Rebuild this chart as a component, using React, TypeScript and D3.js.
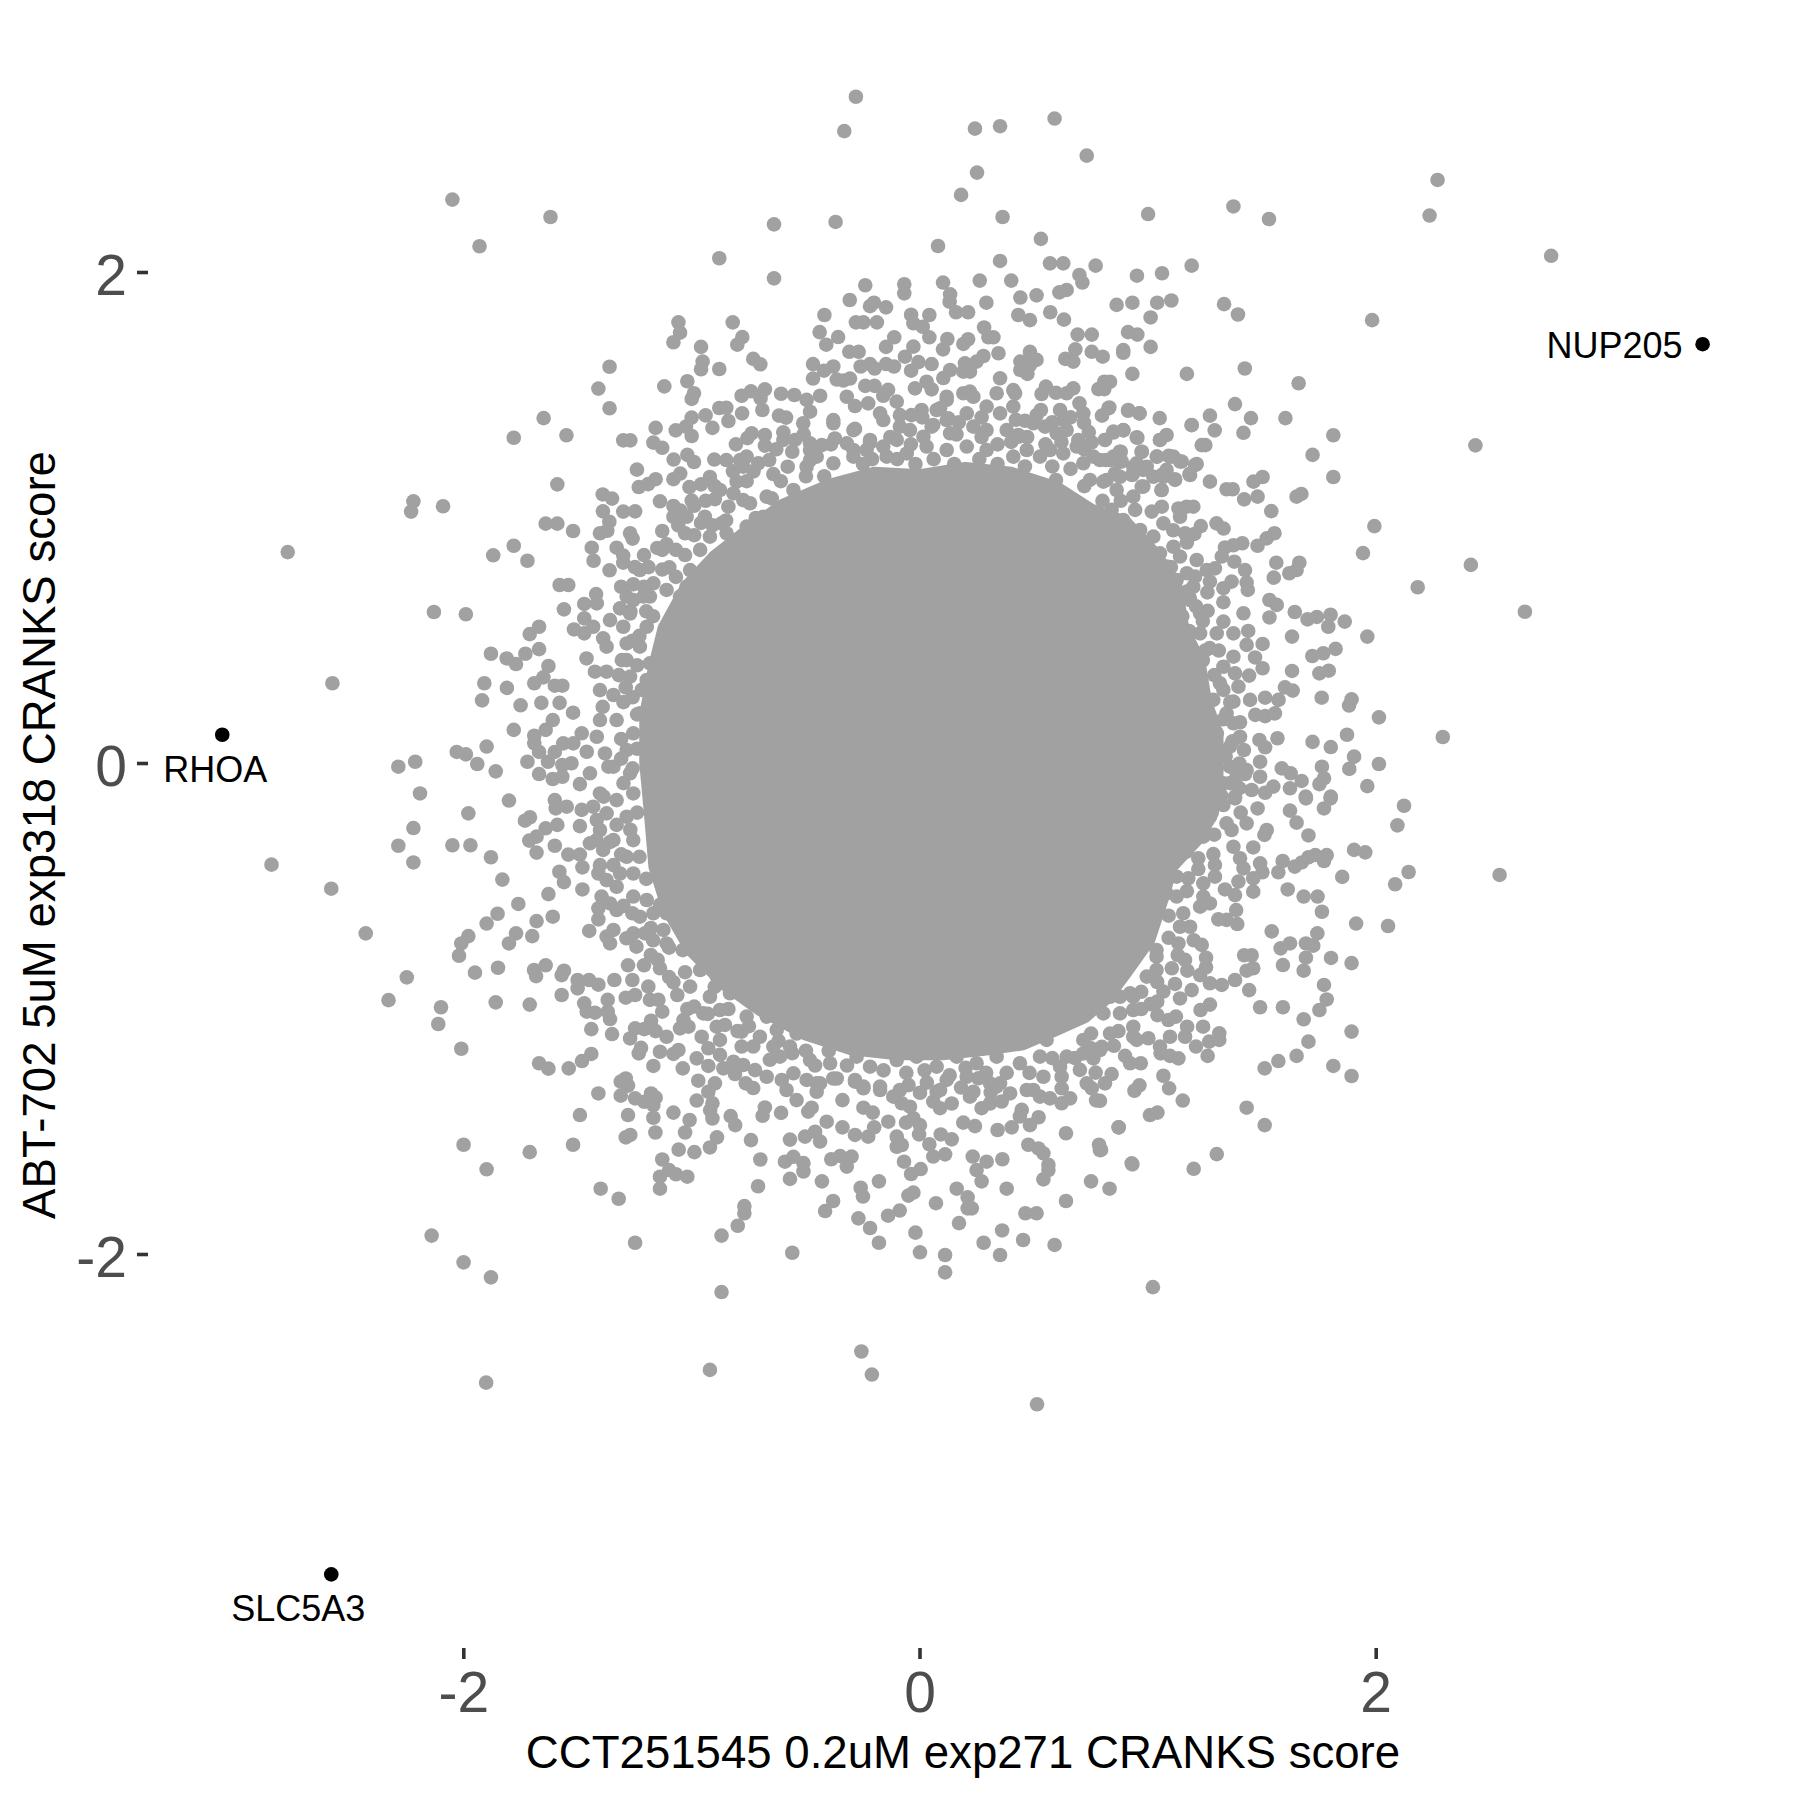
import * as d3 from "d3";

// Values: [CCT251545 score, ABT-702 score]
const farOutliers = [
[-.281,2.716],[-.332,2.576],[.241,2.586],[.351,2.596],[.590,2.627],[.731,2.476],[.250,2.407],[.180,2.316],[.362,2.226],[1.000,2.238],[.530,2.137],[.079,2.108],[-2.050,2.297],[-1.620,2.226],[-1.931,2.107],[-.640,2.196],[-.370,2.206],
[2.269,2.377],[2.234,2.232],[2.767,2.068],[1.982,1.806],[1.374,2.269],[1.530,2.218],[1.333,1.871],[1.394,1.829],[1.424,1.609],[1.660,1.549],[2.435,1.296],[2.415,.809],[2.652,.618],[2.541,-.454],
[-2.772,.861],[-2.576,.327],[-2.843,-.412],[-2.581,-.510],[-2.430,-.692],[-2.330,-.964],[-1.902,-2.522],[-.921,-2.470],[-.257,-2.395],[-.211,-2.489],[.513,-2.610],
];
const upperLeft = [
[-.880,2.058],[-.640,1.976],[-1.059,1.797],[-1.052,1.755],[-1.081,1.716],[-.821,1.797],[-.779,1.737],[-.801,1.706],[-.960,1.697],[-.953,1.637],[-.960,1.606],[-.880,1.607],[-.731,1.648],[-.700,1.626],[-1.361,1.616],[-1.410,1.527],[-1.361,1.447],[-1.121,1.536],[-1.020,1.557],[-.991,1.508],[-1.001,1.485],[-1.650,1.407],[-1.781,1.327],[-1.550,1.337],[-1.301,1.316],[-1.270,1.316],[-1.159,1.367],[-1.071,1.357],[-1.001,1.409],[-1.026,1.372],[-1.001,1.334],[-.940,1.418],[-.910,1.367],[-.880,1.448],[-.849,1.449],[-.840,1.395],[-.780,1.426],[-.782,1.498],[-.741,1.516],[-.680,1.524],[-.609,1.506],[-.551,1.501],[-.699,1.487],[-.691,1.440],[-.618,1.417],[-.587,1.409],[-1.169,1.307],[-1.130,1.286],[-1.080,1.238],[-1.020,1.257],[-.991,1.228],[-.902,1.238],[-.849,1.236],[-1.241,1.197],[-1.233,1.126],[-1.192,1.138],[-1.159,1.158],[-1.081,1.158],[-1.051,1.181],[-1.011,1.126],[-.960,1.137],[-.921,1.167],[-1.590,1.137],[-1.391,1.096],[-1.350,1.079],[-1.390,1.027],[-1.301,1.026],[-1.249,1.027],[-1.140,1.068],[-1.001,1.071],[-2.221,1.068],[-2.231,1.026],[-2.091,1.048],[-1.641,.977],[-1.590,.977],[-1.521,.947],[-1.362,.985],[-1.403,.938],[-1.371,.948],[-1.271,.938],[-1.260,.916],[-1.130,.947],[-1.439,.879],[-1.431,.826],[-1.330,.879],[-1.301,.847],[-1.301,.818],[-1.210,.849],[-1.152,.878],[-1.111,.893],[-1.871,.848],[-1.781,.887],[-1.721,.826],[-1.361,.787],[-1.580,.727],[-1.542,.727],[-1.420,.690],[-1.030,.849],[-1.099,.799],[-1.257,.730],[-.757,1.325],[-.807,1.300],[-.680,1.295],[-.599,1.349],[-.599,1.318],[-.548,1.318],[-.738,1.345],[-.680,1.338],[-.789,1.236],[-.709,1.223],[-.661,1.236],[-.580,1.209],[-.643,1.179],[-1.081,1.049],[-.775,1.209],[-.899,1.077],[-.870,.978],[-.840,1.046],[-.775,1.073],[-.804,1.148],[-1.081,1.005],[-1.023,1.005],[-.943,1.005],[-1.030,.938],
];
const upperMiddle = [
[.351,2.047],[.570,2.037],[.628,2.037],[.699,1.990],[.712,1.959],[.770,2.028],[.951,1.987],[1.061,1.997],[1.191,2.028],[-.240,1.948],[-.069,1.952],[-.069,1.915],[.101,1.959],[.262,1.967],[.400,1.967],[-.308,1.888],[-.202,1.877],[-.219,1.863],[-.149,1.858],[.132,1.911],[.130,1.881],[.158,1.838],[.211,1.838],[.291,1.877],[.440,1.898],[.511,1.907],[.611,1.919],[.643,1.929],[.862,1.868],[.931,1.877],[1.040,1.877],[1.102,1.886],[1.011,1.817],[.571,1.838],[.431,1.827],[.482,1.806],[.631,1.808],[-.419,1.827],[-.281,1.797],[-.248,1.797],[-.189,1.797],[-.039,1.828],[.041,1.827],[-.029,1.793],[.012,1.779],[.041,1.736],[.281,1.776],[.300,1.736],[.322,1.736],[-.440,1.757],[-.359,1.737],[-.411,1.706],[-.113,1.736],[-.149,1.697],[-.029,1.698],[.120,1.729],[.101,1.687],[.211,1.728],[.190,1.709],[.691,1.747],[.753,1.747],[.912,1.757],[.953,1.747],[.891,1.684],[.891,1.673],[1.011,1.697],[.681,1.687],[.753,1.677],[.801,1.657],[.637,1.648],[.672,1.637],[.482,1.677],[-.310,1.677],[-.269,1.677],[.344,1.671],[.278,1.660],[.440,1.637],[.511,1.644],[.482,1.623],[.440,1.603],[.471,1.587],[.931,1.587],[1.170,1.587],[.808,1.555],[.833,1.555],[.782,1.525],[.808,1.525],[-.066,1.657],[-.469,1.627],[-.380,1.617],[-.421,1.600],[-.469,1.568],[-.260,1.617],[-.219,1.627],[-.199,1.609],[-.149,1.627],[-.114,1.617],[-.007,1.635],[.051,1.627],[-.039,1.600],[.132,1.603],[.197,1.630],[.219,1.596],[.190,1.596],[.248,1.637],[.102,1.570],[-.365,1.564],[-.336,1.560],[-.307,1.568],[.351,1.569],[-.022,1.528],[.029,1.555],[.051,1.524],[-.240,1.538],[-.199,1.538],[-.140,1.522],[-.161,1.498],[-.438,1.498],[-.321,1.494],[-.497,1.481],[.552,1.535],[.533,1.505],[.596,1.510],[.672,1.528],[.643,1.508],[.409,1.521],[.417,1.508],[.830,1.450],[.798,1.417],[.912,1.437],[.962,1.426],[1.051,1.407],[1.191,1.379],[.699,1.467],[.716,1.426],[.719,1.388],[1.081,1.338],[1.052,1.318],[.953,1.327],[.892,1.357],[.848,1.348],[.811,1.318],[.753,1.308],[.694,1.318],[.972,1.270],[.876,1.270],[.815,1.236],[.876,1.230],[1.039,1.250],[1.090,1.253],[1.111,1.250],[1.147,1.230],[1.206,1.216],[1.184,1.175],[1.067,1.168],[1.118,1.158],[.979,1.128],[1.059,1.114],[.930,1.175],[.855,1.182],[.745,1.155],[.804,1.148],[.596,1.155],[1.235,1.297],[.007,1.440],[-.037,1.419],[.088,1.447],[.124,1.406],[-.088,1.419],[-.102,1.474],[-.227,1.467],[-.285,1.456],[-.380,1.399],[-.482,1.433],[-.512,1.386],[-.373,1.324],[-.482,1.304],[-.431,1.297],[.117,1.494],[.219,1.515],[.511,1.419],[.460,1.396],[.431,1.338],[.570,1.277],[.629,1.399],[.614,1.440],[-.175,1.426],[-.285,1.363],[.058,1.379],[-.292,1.277],[-.219,1.307],[-.482,1.236],
];
const rightUpper = [
[1.381,1.464],[1.602,1.407],[1.451,1.407],[1.271,1.417],[1.191,1.378],[1.292,1.357],[1.418,1.347],[1.812,1.337],[1.251,1.297],[1.721,1.257],[1.812,1.167],[1.502,1.167],[1.462,1.148],[1.271,1.148],[1.344,1.117],[1.371,1.117],[1.421,1.076],[1.480,1.087],[1.672,1.098],[1.651,1.087],[1.540,1.028],[1.213,1.220],[1.181,1.179],[1.198,1.046],[1.169,1.046],[1.133,1.039],[1.140,1.005],[1.992,.967],[1.942,.857],[2.182,.718],[1.300,.978],[1.331,.957],[1.231,.967],[1.203,.935],[1.162,.938],[1.554,.938],[1.520,.917],[1.480,.887],[1.413,.897],[1.374,.889],[1.337,.880],[1.323,.843],[1.213,.829],[1.293,.795],[1.257,.788],[1.206,.761],[1.378,.822],[1.425,.788],[1.432,.737],[1.437,.707],[1.562,.818],[1.551,.757],[1.663,.818],[1.651,.788],[1.619,.775],[1.271,.741],[1.366,.741],[1.330,.714],[1.260,.697],[1.330,.657],[1.181,.677],[1.532,.666],[1.564,.646],[1.418,.612],[1.532,.595],[1.643,.617],[1.699,.587],[1.740,.597],[1.800,.606],[1.862,.578],[1.790,.557],[1.631,.517],[1.961,.517],[1.261,.622],[1.330,.578],[1.439,.540],[1.374,.530],[1.502,.487],[1.432,.483],[1.822,.467],[1.768,.449],[1.720,.438],[1.792,.378],[1.751,.367],[1.631,.377],[1.469,.432],[1.502,.388],[1.443,.358],[1.381,.367],[1.396,.313],[1.600,.310],[1.634,.297],[1.761,.268],[1.892,.261],[1.881,.236],[1.513,.268],[1.572,.259],[1.447,.259],[1.374,.252],[2.012,.188],[1.470,.198],[1.513,.193],[1.556,.204],[1.403,.168],[1.872,.117],[2.292,.108],[1.721,.088],[1.801,.067],[1.567,.103],[1.488,.096],[1.513,.066],[1.420,.055],[1.903,.028],[2.012,-.002],[1.882,-.022],[1.762,-.013],[1.491,.007],[1.586,-.020],[1.625,-.040],[1.673,-.071],[1.771,-.060],[1.751,-.084],[1.961,-.092],[1.622,-.101],[1.549,-.094],[1.491,-.054],[1.425,-.043],[1.454,-.108],[1.381,-.135],[1.691,-.135],[1.801,-.135],[1.359,-.013],[1.513,-.119],
];
const rightLower = [
[2.122,-.172],[2.093,-.252],[1.800,-.142],[1.771,-.183],[1.692,-.142],[1.622,-.192],[1.651,-.241],[1.703,-.293],[1.480,-.183],[1.406,-.200],[1.432,-.244],[1.520,-.271],[1.510,-.291],[1.381,-.142],[1.330,-.169],[1.366,-.271],[1.461,-.342],[1.374,-.339],[1.403,-.386],[1.491,-.407],[1.590,-.397],[1.571,-.443],[1.501,-.443],[1.418,-.427],[1.461,-.468],[1.396,-.481],[1.461,-.522],[1.643,-.420],[1.674,-.403],[1.703,-.382],[1.733,-.373],[1.783,-.373],[1.771,-.397],[1.903,-.352],[1.952,-.362],[2.142,-.442],[2.083,-.492],[1.851,-.462],[1.612,-.513],[1.682,-.542],[1.743,-.542],[1.762,-.604],[1.912,-.652],[2.052,-.662],[1.542,-.684],[1.742,-.692],[1.622,-.733],[1.581,-.753],[1.692,-.733],[1.724,-.742],[1.692,-.791],[1.591,-.821],[1.682,-.844],[1.802,-.792],[1.892,-.813],[1.421,-.781],[1.454,-.781],[1.432,-.844],[1.461,-.834],[1.381,-.882],[1.443,-.923],[1.771,-.902],[1.783,-.961],[1.751,-1.004],[1.491,-.993],[1.591,-.993],[1.682,-1.042],[1.892,-1.092],[1.703,-1.133],[1.651,-1.191],[1.571,-1.212],[1.511,-1.242],[1.812,-1.232],[1.892,-1.273],[1.432,-1.402],[1.511,-1.473],[1.301,-1.591],[1.152,-1.373],[1.041,-1.422],[1.008,-1.432],[.871,-1.482],[1.092,-1.323],[1.067,-1.272],[.962,-1.311],[.940,-1.333],[.840,-1.265],[.811,-1.303],[1.261,-1.191],[1.210,-1.153],[1.268,-1.133],[1.312,-1.099],[1.312,-1.126],[1.241,-1.072],[1.162,-1.113],[1.171,-1.072],[1.271,-.982],[1.230,-1.004],[1.122,-1.031],[1.041,-1.025],[1.089,-1.045],[1.096,-1.113],[1.052,-1.153],[1.055,-1.181],[1.133,-1.201],[1.096,-1.191],[.968,-1.221],[.921,-1.221],[.899,-1.191],[1.001,-1.119],[.950,-1.126],[1.191,-.923],[1.140,-.957],[1.067,-.929],[1.118,-.898],[1.271,-.895],[1.323,-.902],[1.228,-.862],[1.254,-.830],[1.254,-.791],[1.235,-.739],[1.162,-.800],[1.172,-.844],[1.104,-.834],[1.133,-.733],[1.037,-.841],[1.391,-.654],[1.344,-.637],[1.308,-.635],[1.386,-.597],[1.337,-.513],[1.381,-.536],[1.242,-.542],[1.271,-.570],[1.176,-.468],[1.242,-.488],[1.293,-.461],[1.293,-.413],[1.286,-.369],[1.169,-.359],[1.220,-.386],[1.184,-.665],[1.037,-.760],[1.023,-.868],[.935,-.950],[.877,-.950],[.935,-1.004],[.789,-1.374],[.789,-1.575],[.928,-1.629],
];
const bottomMiddle = [
[1.021,-2.133],[.110,-2.073],[.110,-2.002],[.000,-1.991],[-.180,-1.952],[-.020,-1.911],[-.219,-1.892],[-.270,-1.853],[.279,-1.952],[.351,-2.002],[.360,-1.902],[.452,-1.941],[.590,-1.961],[.171,-1.872],[-.140,-1.842],[-.089,-1.821],[-.416,-1.823],[-.381,-1.782],[.070,-1.791],[.209,-1.812],[.209,-1.767],[.227,-1.812],[.462,-1.832],[.511,-1.832],[.640,-1.782],[-.250,-1.764],[-.260,-1.728],[-.180,-1.702],[-.430,-1.702],[-.051,-1.760],[-.029,-1.748],[.161,-1.732],[.380,-1.732],[.270,-1.702],[.248,-1.656],[.541,-1.694],[.563,-1.656],[.563,-1.635],[.750,-1.702],[.831,-1.732],[.931,-1.633],[1.200,-1.651],[.003,-1.652],[-.039,-1.672],[-.511,-1.662],[-.511,-1.628],[-.321,-1.642],[-.389,-1.612],[-.350,-1.599],[-.300,-1.601],[-.070,-1.622],[.058,-1.601],[.110,-1.592],[.231,-1.601],[.292,-1.622],[.361,-1.612],[.541,-1.588],[.519,-1.568],[.475,-1.553],[.785,-1.553],[.794,-1.574],[.640,-1.506],[.871,-1.482],[-.102,-1.561],[-.080,-1.554],[.041,-1.551],[.139,-1.531],[.091,-1.511],[-.004,-1.511],[-.102,-1.520],[-.227,-1.520],[-.285,-1.513],[-.340,-1.482],[-.201,-1.482],[-.438,-1.540],[-.504,-1.520],[-.409,-1.459],[-.460,-1.500],[-.139,-1.459],[-.061,-1.463],[.000,-1.473],[.190,-1.463],[.241,-1.477],[.340,-1.493],[.402,-1.482],[.482,-1.473],[.520,-1.441],[-.340,-1.371],[-.248,-1.402],[-.207,-1.422],[-.475,-1.402],[-.490,-1.418],[.772,-1.372],[.658,-1.364],[.621,-1.384],[.570,-1.364],[.526,-1.357],[.770,-1.259],[.753,-1.323],[.621,-1.323],[.621,-1.276],[.438,-1.438],[.446,-1.411],[.088,-1.404],[.139,-1.385],[.058,-1.377],[.000,-1.341],[-.029,-1.445],[-.044,-1.398],[-.080,-1.384],[.270,-1.404],[.307,-1.385],[.358,-1.377],[-.365,-1.283],[-.453,-1.337],[-.438,-1.303],[-.248,-1.316],[-.175,-1.330],[-.285,-1.296],[.336,-1.316],[.497,-1.330],[.256,-1.282],[.219,-1.357],[.073,-1.337],[-.117,-1.357],[.760,-1.201],
];
const lowerLeft = [
[-2.021,-.783],[-2.250,-.871],[-1.951,-.852],[-1.850,-.832],[-2.100,-.993],[-2.112,-1.061],[-1.860,-.973],[-1.711,-.982],[-2.011,-1.162],[-1.692,-.841],[-1.641,-.822],[-1.683,-.866],[-1.561,-.844],[-1.571,-.862],[-1.571,-.943],[-1.501,-.882],[-1.501,-.916],[-1.451,-.882],[-1.410,-.901],[-1.340,-.882],[-1.280,-.822],[-1.210,-.822],[-1.261,-.882],[-1.191,-.909],[-1.369,-.963],[-1.290,-.954],[-1.249,-.943],[-1.472,-.977],[-1.461,-1.011],[-1.425,-1.015],[-1.369,-1.011],[-1.359,-1.041],[-1.184,-.963],[-1.147,-.963],[-1.130,-1.011],[-1.441,-1.082],[-1.350,-1.102],[-1.179,-1.048],[-1.249,-1.079],[-1.271,-1.120],[-1.209,-1.082],[-1.223,-1.158],[-1.233,-1.181],[-1.159,-1.090],[-1.140,-1.174],[-1.111,-1.113],[-1.081,-1.183],[-1.059,-1.167],[-1.040,-1.242],[-1.169,-1.232],[-.979,-1.201],[-.928,-1.232],[-.972,-1.292],[-.899,-1.303],[-.928,-1.337],[-.979,-1.373],[-.910,-1.384],[-.920,-1.412],[-.910,-1.446],[-.830,-1.436],[-.810,-1.473],[-1.010,-1.452],[-1.030,-1.503],[-1.081,-1.422],[-1.670,-1.221],[-1.629,-1.243],[-1.540,-1.242],[-1.482,-1.212],[-1.441,-1.183],[-1.410,-1.344],[-1.491,-1.432],[-1.290,-1.283],[-1.312,-1.296],[-1.280,-1.312],[-1.312,-1.353],[-1.249,-1.364],[-1.209,-1.378],[-1.179,-1.344],[-1.159,-1.361],[-1.169,-1.391],[-1.169,-1.443],[-1.280,-1.432],[-1.160,-1.503],[-1.270,-1.513],[-1.290,-1.523],[-1.521,-1.553],[-2.001,-1.553],[-1.711,-1.583],[-1.900,-1.653],[-1.058,-1.573],[-.989,-1.583],[-.921,-1.564],[-.890,-1.523],[-1.130,-1.613],[-1.140,-1.683],[-1.100,-1.656],[-1.070,-1.673],[-1.020,-1.683],[-1.140,-1.732],[-1.400,-1.732],[-1.321,-1.773],[-2.141,-1.923],[-2.001,-2.032],[-1.881,-2.093],[-1.249,-1.952],[-.870,-1.923],[-.799,-1.883],[-.770,-1.832],[-.770,-1.803],[-.710,-1.722],[-.560,-1.993],[-.870,-2.153],[-.741,-1.534],[-.700,-1.613],[-.570,-1.532],[-.570,-1.692],[-.592,-1.622],[-.555,-1.602],[-.609,-1.423],[-.690,-1.435],[-.680,-1.401],[-.731,-1.322],[-.764,-1.303],[-.672,-1.276],[-.811,-1.265],[-.723,-1.249],[-.862,-1.242],[-.818,-1.215],[-.775,-1.228],[-.782,-1.153],[-.782,-1.092],[-.877,-1.187],[-.928,-1.160],[-.957,-1.113],[-.855,-1.065],[-1.037,-1.045],[-1.052,-1.079],[-1.015,-1.072],[-1.020,-1.000],[-1.064,-.943],[-1.081,-.891],[-1.140,-.834],[-.585,-1.330],[-.555,-1.262],[-.606,-1.289],[-.541,-1.371],[-.658,-1.207],[-.614,-1.194],
];
const leftMiddle = [
[-2.131,.617],[-1.991,.608],[-1.670,.557],[-1.711,.527],[-1.881,.447],[-1.812,.428],[-1.771,.405],[-1.730,.447],[-1.670,.466],[-1.629,.397],[-1.651,.351],[-1.691,.327],[-1.601,.317],[-1.568,.317],[-1.910,.327],[-1.811,.308],[-1.920,.257],[-1.751,.237],[-1.660,.247],[-1.580,.247],[-1.521,.207],[-1.781,.137],[-1.610,.177],[-1.641,.137],[-1.691,.113],[-1.691,.082],[-1.670,.047],[-1.900,.069],[-2.031,.047],[-1.991,.037],[-1.941,-.002],[-1.860,-.032],[-2.213,.007],[-2.287,-.013],[-1.721,.007],[-1.670,-.043],[-1.631,.007],[-1.601,.047],[-1.564,.082],[-1.520,.082],[-1.483,.123],[-1.417,.109],[-1.403,.177],[-1.391,.231],[-1.610,-.063],[-1.568,-.054],[-1.568,-.006],[-1.528,.001],[-1.491,-.084],[-1.461,.048],[-1.381,.041],[-1.366,-.013],[-1.447,-.040],[-2.192,-.122],[-1.802,-.151],[-1.980,-.203],[-1.601,-.149],[-1.597,-.183],[-1.549,-.176],[-1.732,-.233],[-1.710,-.219],[-2.221,-.263],[-1.590,-.250],[-1.641,-.264],[-1.681,-.298],[-1.713,-.314],[-1.601,-.335],[-1.681,-.363],[-2.050,-.333],[-1.971,-.333],[-2.287,-.335],[-2.221,-.403],[-1.881,-.382],[-1.831,-.473],[-1.542,-.371],[-1.491,-.371],[-1.480,-.423],[-1.581,-.441],[-1.561,-.483],[-1.480,-.513],[-1.629,-.532],[-1.761,-.572],[-1.852,-.612],[-1.900,-.652],[-1.610,-.624],[-1.681,-.642],[-1.771,-.692],[-1.700,-.703],[-1.802,-.733],[-1.980,-.703],[-2.011,-.733],[-1.450,-.682],[-1.410,-.635],[-1.410,-.590],[-1.330,-.597],[-1.396,-.542],[-1.374,-.705],[-1.359,-.733],[-1.483,-.189],[-1.491,-.255],[-1.447,-.325],[-1.417,-.230],[-1.387,-.135],[-1.403,-.414],[-1.410,-.448],[-1.344,-.414],[-1.374,-.475],[-1.315,-.448],[-1.261,-.610],[-1.287,-.712],[-1.243,-.746],[-1.206,-.692],[-1.140,-.576],[-1.111,-.610],[-1.111,-.733],[-1.417,.652],[-1.359,.584],[-1.301,.557],[-1.286,.489],[-1.374,.476],[-1.462,.428],[-1.425,.374],[-1.374,.374],[-1.307,.421],[-1.403,.299],[-1.344,.279],[-1.290,.310],[-1.472,.650],[-1.561,.628],[-1.472,.591],[-1.517,.546],[-1.472,.530],[-1.433,.557],[-1.389,.510],[-1.315,.632],[-1.257,.666],
];
// Dots along the edge of the merged mass, read as well as their overlaps allow
const bandTop = [
[-.380,1.386],[-.292,1.358],[-.219,1.318],[-.161,1.399],[-.088,1.372],[-.044,1.358],[.051,1.372],[.117,1.399],[.205,1.426],[.234,1.372],[.292,1.454],[.351,1.426],[.409,1.454],[.336,1.508],[.234,1.494],[.190,1.508],[.117,1.481],[.073,1.440],[.292,1.358],[.380,1.358],[.431,1.331],[.497,1.386],[.548,1.372],[.599,1.345],[.643,1.358],[.687,1.291],[.628,1.263],[.716,1.223],[.526,1.250],[.468,1.277],[.409,1.250],[.292,1.277],[.205,1.291],[.117,1.277],[.029,1.291],[-.058,1.263],[-.146,1.250],[-.234,1.277],[-.292,1.250],[-.380,1.223],[-.453,1.250],[-.497,1.209],[-.482,1.277],[.789,1.236],[.848,1.250],[.935,1.209],[.877,1.168],[.994,1.209],[1.081,1.196],[1.023,1.168],[-.321,1.304],[-.161,1.291],[-.102,1.318],[.015,1.331],[.132,1.345],
[-.10,1.24],[-.02,1.22],[.06,1.24],[.15,1.22],[.26,1.24],[.34,1.22],[.46,1.21],[.58,1.21],[.66,1.20],[.72,1.13],[.80,1.07],[.88,1.07],[.16,1.34],[.27,1.33],[.34,1.30],[.40,1.31],[.47,1.33],[.55,1.30],[.62,1.31],[.72,1.28],[.76,1.25],[-.04,1.30],[-.13,1.33],[-.21,1.24],[.01,1.41],[.17,1.39],[.27,1.41],[.42,1.40],[.53,1.44],[.58,1.39],[.66,1.41],[.74,1.35],
];
const bandUpperLeft = [
[-.877,1.114],[-.818,1.100],[-.745,1.060],[-.672,1.087],[-.599,1.033],[-.555,1.114],[-.760,.965],[-.687,1.005],[-.599,.951],[-.541,.965],[-.921,.924],[-.848,.938],[-.775,.897],[-.687,.897],[-.614,.870],[-.541,.897],[-.964,.870],[-.891,.843],[-.804,.829],[-.731,.843],[-.658,.802],[-.570,.829],[-1.008,.788],[-.935,.761],[-.848,.761],[-.775,.734],[-.687,.707],[-.599,.734],[-1.023,.720],[-.964,.680],[-.891,.680],[-.804,.680],[-1.228,.788],[-1.169,.734],[-1.111,.707],[-1.052,.680],[-1.184,.680],[-1.286,.680],
[-.76,1.25],[-.73,1.19],[-.82,1.19],[-.76,1.15],[-.61,1.15],[-.65,1.08],[-.53,1.05],[-1.05,1.03],[-.99,1.05],[-.96,.98],[-1.06,.97],[-.99,.93],[-.91,.97],[-.85,.99],[-.72,1.00],[-1.13,.87],[-1.07,.87],[-1.19,.80],[-1.13,.79],[-1.07,.76],[-1.25,.80],[-1.21,.72],[-1.31,.72],[-1.27,.62],[-1.20,.62],[-.50,1.17],[-.52,1.07],[-.46,1.05],[-.42,1.17],[-.33,1.14],[-.25,1.22],[-.39,1.30],[-.51,1.34],[-.56,1.27],[-.63,1.28],[-.90,1.13],[-.94,1.07],
];
const bandUpperRight = [
[.826,1.447],[.913,1.440],[.962,1.426],[.848,1.352],[.891,1.358],[.811,1.318],[.950,1.329],[1.052,1.318],[.880,1.270],[.972,1.270],[.833,1.236],[.884,1.230],[.950,1.223],[1.038,1.250],[1.096,1.250],[1.140,1.230],[.935,1.182],[.979,1.196],[1.059,1.175],[1.118,1.155],[.818,1.155],[.862,1.114],[.935,1.087],[.972,1.128],[1.059,1.114],[.840,1.033],[.943,1.033],[1.016,1.026],[1.060,1.046],[.891,.992],[1.067,.978],[.965,.951],[1.023,.924],[.833,.938],[.913,.910],[1.111,.883],[1.052,.856],[.972,.897],[1.140,.843],[1.081,.802],[.994,.802],[.877,.829],
[1.228,.612],[1.301,.530],[1.228,.530],[1.374,.435],[1.330,.394],[1.315,.327],[1.286,.259],[1.344,.204],[1.374,.164],[1.301,.123],[1.359,.069],[1.388,-.054],[1.432,-.027],[1.301,-.013],[1.330,-.081],[1.403,.109],[1.184,.666],[1.125,.747],[1.198,.720],[1.228,.286],[1.170,.775],
[1.17,.90],[1.11,.95],[1.10,.80],[1.17,.70],[1.12,.66],[1.21,.64],[1.15,.60],[1.24,.58],[1.18,.54],[1.27,.47],[1.24,.42],[1.31,.46],[1.29,.36],[1.33,.30],[1.36,.25],[1.33,.18],[1.37,.09],[1.34,.03],[1.40,.00],[1.36,-.08],[1.40,-.10],[1.32,-.13],[1.25,.46],[1.18,.47],
];
const bandLowerRight = [
[1.228,-.135],[1.271,-.217],[1.198,-.190],[1.344,-.244],[1.242,-.298],[1.184,-.257],[1.125,-.366],[1.081,-.420],[1.125,-.461],[1.081,-.529],[1.228,-.583],[1.154,-.610],[1.125,-.542],[1.037,-.610],[1.140,-.665],[.950,-.651],[1.008,-.692],[.906,-.719],[1.037,-.787],[.935,-.800],[.994,-.868],[.877,-.868],[.921,-.936],[.833,-.950],[.877,-1.018],[.804,-1.018],[.935,-1.072],[.833,-1.100],[.797,-1.154],
[1.29,-.29],[1.22,-.43],[1.17,-.52],[1.09,-.62],[1.20,-.72],[1.09,-.71],[1.13,-.78],[1.04,-.89],[.97,-.93],[.97,-1.00],[1.04,-.97],[.75,-1.10],[.87,-1.09],[.75,-1.16],[.68,-1.20],[.85,-1.15],[1.01,-.98],
];
const bandBottom = [
[-.453,-1.099],[-.351,-1.126],[-.234,-1.099],[-.117,-1.126],[-.029,-1.113],[.088,-1.113],[.205,-1.126],[.322,-1.126],[.438,-1.126],[.555,-1.126],[.716,-1.126],[-.482,-1.208],[-.394,-1.221],[-.278,-1.194],[-.219,-1.235],[-.102,-1.208],[-.015,-1.194],[.073,-1.235],[.161,-1.194],[.248,-1.221],[.336,-1.194],[.438,-1.221],[.526,-1.194],[.643,-1.194],[.716,-1.181],[.789,-1.167],[.935,-1.113],[-.497,-1.289],[-.453,-1.303],[-.380,-1.283],[-.285,-1.289],[-.248,-1.323],[-.175,-1.316],[-.088,-1.330],[.088,-1.330],[.117,-1.289],[.205,-1.276],[.234,-1.337],[.307,-1.303],[.351,-1.303],[.395,-1.344],[.468,-1.330],[.541,-1.276],[.614,-1.235],[.701,-1.248],[.731,-1.303],
[-.40,-1.17],[-.32,-1.23],[-.16,-1.25],[-.06,-1.26],[.02,-1.25],[.13,-1.27],[.20,-1.24],[.29,-1.26],[.38,-1.26],[.48,-1.26],[.58,-1.20],[-.05,-1.31],[.03,-1.30],[.31,-1.34],[.18,-1.32],[-.56,-1.18],[-.46,-1.23],
];
const bandLowerLeft = [
[-.964,-.841],[-.891,-.868],[-.818,-.841],[-.731,-.868],[-.643,-.841],[-.555,-.868],[-1.008,-.909],[-.921,-.950],[-.833,-.936],[-.745,-.950],[-.658,-.963],[-.570,-.950],[-.950,-1.018],[-.877,-1.004],[-.760,-1.031],[-.672,-1.031],[-.585,-1.018],[-.891,-1.072],[-.702,-1.113],[-.628,-1.085],[-.541,-1.100],[-.731,-1.153],[-.643,-1.153],[-.570,-1.153],[-.877,-1.126],
[-1.03,-.85],[-1.10,-.75],[-1.17,-.72],[-1.04,-.76],[-1.18,-.78],[-1.10,-.87],[-.99,-.99],[-.93,-1.02],[-.80,-1.09],[-.84,-1.00],[-.70,-.99],[-.75,-1.07],[-.64,-1.02],[-.50,-1.02],[-.62,-1.13],[-.50,-1.17],[-.90,-.91],[-1.15,-.80],
];
const bandLeft = [
[-1.330,.177],[-1.257,.123],[-1.286,.055],[-1.344,-.013],[-1.271,-.040],[-1.403,-.122],[-1.330,-.149],[-1.257,-.122],[-1.433,-.176],[-1.374,-.203],[-1.286,-.217],[-1.403,-.271],[-1.344,-.312],[-1.257,-.312],[-1.418,-.312],[-1.286,-.380],[-1.389,-.352],[-1.257,-.448],[-1.330,-.502],[-1.257,-.542],[-1.359,-.570],[-1.198,-.556],[-1.228,-.624],[-1.125,-.678],[-1.257,-.692],[-1.344,-.678],[-1.169,-.610],[-1.271,.611],[-1.198,.557],[-1.228,.476],[-1.286,.421],[-1.271,.354],[-1.228,.204],[-1.198,.340],[-1.213,.680],[-1.184,.408],
[-1.26,-.02],[-1.31,.02],[-1.24,.06],[-1.31,.10],[-1.24,.20],[-1.30,.25],[-1.26,.27],[-1.32,.36],[-1.24,.40],[-1.22,.30],[-1.30,-.08],[-1.24,-.20],[-1.33,-.25],[-1.27,-.27],[-1.23,-.38],[-1.31,-.37],[-1.20,-.47],[-1.30,-.58],[-1.18,-.67],[-1.36,-.32],[-1.23,.52],[-1.17,.60],[-1.26,.50],
];
// Outline of the solid centre, where the individual dots have merged
const coreOutline = [
[-.40,1.13],[-.20,1.18],[0,1.17],[.2,1.2],[.4,1.18],[.6,1.12],[.75,1.03],[.9,.98],[1.03,.85],[1.12,.72],[1.15,.55],[1.22,.42],[1.25,.25],[1.30,.12],[1.30,-.05],[1.28,-.2],[1.22,-.3],[1.10,-.42],[1.06,-.55],[1.0,-.72],[.9,-.85],[.82,-.95],[.72,-1.03],[.6,-1.08],[.45,-1.14],[.3,-1.16],[.1,-1.18],[-.1,-1.18],[-.3,-1.16],[-.5,-1.10],[-.7,-1.0],[-.85,-.9],[-1.0,-.76],[-1.1,-.6],[-1.16,-.42],[-1.18,-.2],[-1.2,0],[-1.2,.2],[-1.16,.4],[-1.12,.55],[-1.02,.72],[-.9,.84],[-.75,.95],[-.6,1.05],
];
const hitGenes = ["NUP205", "RHOA", "SLC5A3"];
const hitX = [3.431, -3.059, -2.581];
const hitY = [1.708, 0.117, -3.303];
const hitAnchor = ["end", "middle", "middle"];
const xTicks = [-2, 0, 2];
const yTicks = [-2, 0, 2];
const xTitle = "CCT251545 0.2uM exp271 CRANKS score";
const yTitle = "ABT-702 5uM exp318 CRANKS score";

const grey = "#A1A1A1";
const font = "'Liberation Sans', Arial, sans-serif";
const x = d3.scaleLinear().domain([-2, 2]).range([463.8, 1376.2]);
const y = d3.scaleLinear().domain([-2, 2]).range([1254.5, 272.5]);
const coreLine = d3.line<number[]>().x((d) => x(d[0])).y((d) => y(d[1])).curve(d3.curveLinearClosed);
const greyPoints = [...farOutliers, ...upperLeft, ...upperMiddle, ...rightUpper, ...rightLower, ...bottomMiddle, ...lowerLeft, ...leftMiddle, ...bandTop, ...bandUpperLeft, ...bandUpperRight, ...bandLowerRight, ...bandBottom, ...bandLowerLeft, ...bandLeft];
// label offsets in px relative to each highlighted point
const labelDx = [-20, -7, -33];
const labelDy = [14, 47, 47];

export default function App() {
  return (
    <svg width={1800} height={1800} viewBox="0 0 1800 1800" style={{ position: "absolute", left: 0, top: 0, background: "#fff" }} fontFamily={font}>
      <path d={coreLine(coreOutline) ?? ""} fill={grey} stroke={grey} strokeWidth={14} strokeLinejoin="round" />
      {greyPoints.map((d, i) => (
        <circle key={i} cx={x(d[0])} cy={y(d[1])} r={7.3} fill={grey} />
      ))}
      {hitGenes.map((g, i) => (
        <g key={g}>
          <circle cx={x(hitX[i])} cy={y(hitY[i])} r={7.3} fill="#000" />
          <text x={x(hitX[i]) + labelDx[i]} y={y(hitY[i]) + labelDy[i]} fontSize={36} textAnchor={hitAnchor[i]} fill="#000">{g}</text>
        </g>
      ))}
      {xTicks.map((t) => (
        <g key={t}>
          <line x1={x(t)} x2={x(t)} y1={1648} y2={1659} stroke="#333" strokeWidth={3.6} />
          <text x={x(t)} y={1712} fontSize={57} textAnchor="middle" fill="#4D4D4D">{t}</text>
        </g>
      ))}
      {yTicks.map((t) => (
        <g key={t}>
          <line x1={137} x2={148} y1={y(t)} y2={y(t)} stroke="#333" strokeWidth={3.6} />
          <text x={127} y={y(t) + 22} fontSize={57} textAnchor="end" fill="#4D4D4D">{t}</text>
        </g>
      ))}
      <text x={963} y={1768} fontSize={45.6} textAnchor="middle" fill="#000">{xTitle}</text>
      <text transform="translate(55,835) rotate(-90)" fontSize={45.6} textAnchor="middle" fill="#000">{yTitle}</text>
    </svg>
  );
}
